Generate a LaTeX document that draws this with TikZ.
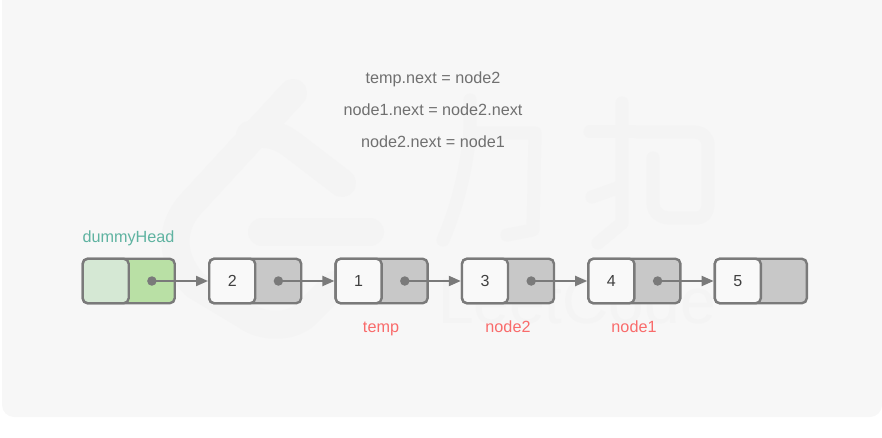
\documentclass[tikz,border=0pt]{standalone}
\usepackage{fontspec}
\setmainfont{Liberation Sans}
\usetikzlibrary{positioning,arrows.meta}
\definecolor{panelbg}{HTML}{F7F7F7}
\definecolor{markgray}{HTML}{F4F4F4}
\definecolor{linegray}{HTML}{7A7A7A}
\definecolor{cellgray}{HTML}{C8C8C8}
\definecolor{cellwhite}{HTML}{F9F9F9}
\definecolor{headgreen}{HTML}{B9E0A5}
\definecolor{headpale}{HTML}{D5E8D4}
\definecolor{headteal}{HTML}{5FB3A1}
\definecolor{labelred}{HTML}{F96B6B}
\definecolor{codegray}{HTML}{707070}
\tikzstyle{listbox}=[draw=linegray,line width=2.4pt,rounded corners=5pt,minimum width=92pt,minimum height=44.5pt,inner sep=0pt,fill=cellgray]
\tikzstyle{datacell}=[draw=linegray,line width=2.4pt,rounded corners=5pt,minimum width=46pt,minimum height=44.5pt,inner sep=0pt,fill=cellwhite,text=black!75,font=\fontsize{16}{18}\selectfont]
\tikzstyle{ptrdot}=[circle,fill=linegray,minimum size=9.5pt,inner sep=0pt]
\tikzstyle{link}=[draw=linegray,line width=2pt,-{Triangle[length=12pt,width=10pt]}]
\tikzstyle{code}=[text=codegray,text height=11pt,text depth=3pt,font=\fontsize{16.2}{18}\selectfont]
\tikzstyle{redlabel}=[text=labelred,text height=11pt,text depth=3pt,font=\fontsize{16.2}{18}\selectfont]
\tikzstyle{markwide}=[draw=markgray,line width=28pt,line cap=round,line join=round]
\tikzstyle{markthin}=[draw=markgray,line width=13pt,line cap=round,line join=round]

\begin{document}
\begin{tikzpicture}[x=1pt,y=-1pt]
    \useasboundingbox (0,0) rectangle (882,438);
    \fill[panelbg, rounded corners=12pt] (2,-12) rectangle (882,417);
    % faint logo behind the list
    \draw[markwide] (293,93) -- (190,205) .. controls (168,230) and (172,262) .. (195,285) -- (245,315) .. controls (262,328) and (290,328) .. (305,315) -- (335,285);
    \draw[markwide] (250,135) .. controls (268,132) and (280,135) .. (295,147) -- (342,183);
    \draw[markwide] (262,232) -- (370,232);
    \draw[markthin] (470,100) -- (470,133) .. controls (466,170) and (458,205) .. (443,240);
    \draw[markthin] (470,133) -- (535,133) -- (533,230) -- (507,235);
    \draw[markthin] (622,103) -- (622,223) -- (598,243);
    \draw[markthin] (590,132) -- (633,132);
    \draw[markthin] (592,197) -- (620,187);
    \draw[markthin] (653,158) -- (653,203) .. controls (653,212) and (660,218) .. (670,218) -- (697,218) .. controls (704,218) and (708,212) .. (708,203) -- (708,145) .. controls (708,137) and (702,132) .. (693,132) -- (637,132);
    \node[text=markgray,font=\fontsize{64}{66}\selectfont,anchor=base] (markname) at (577,323) {LeetCode};
    % the three assignments
    \node[code] (line1) at (433,79.5) {temp.next = node2};
    \node[code] (line2) at (433,111.5) {node1.next = node2.next};
    \node[code] (line3) at (433,143.5) {node2.next = node1};
    % First the cells of the list
    \node[listbox,anchor=west,fill=headgreen] (box0) at (81.5,281) {};
    \node[datacell,anchor=west,fill=headpale] (cell0) at (box0.west) {};
    \foreach \pos/\name/\val in {{(208,281)/1/2}, {(334.4,281)/2/1}, {(460.8,281)/3/3}, {(587.2,281)/4/4}, {(713.6,281)/5/5}} {
        \node[listbox,anchor=west] (box\name) at \pos {};
        \node[datacell,anchor=west] (cell\name) at (box\name.west) {\val};
    }
    % Then the pointers
    \foreach \source/\dest in {0/1,1/2,2/3,3/4,4/5} {
        \node[ptrdot] (dot\source) at ([xshift=22pt]cell\source.east) {};
        \path[link] (dot\source.center) -- (box\dest.west);
    }
    % labels
    \node[code,text=headteal] (headlabel) at (128.5,238.5) {dummyHead};
    \node[redlabel] (templabel) at (381,328) {temp};
    \node[redlabel] (node2label) at (508,328) {node2};
    \node[redlabel] (node1label) at (634,328) {node1};
\end{tikzpicture}
\end{document}
